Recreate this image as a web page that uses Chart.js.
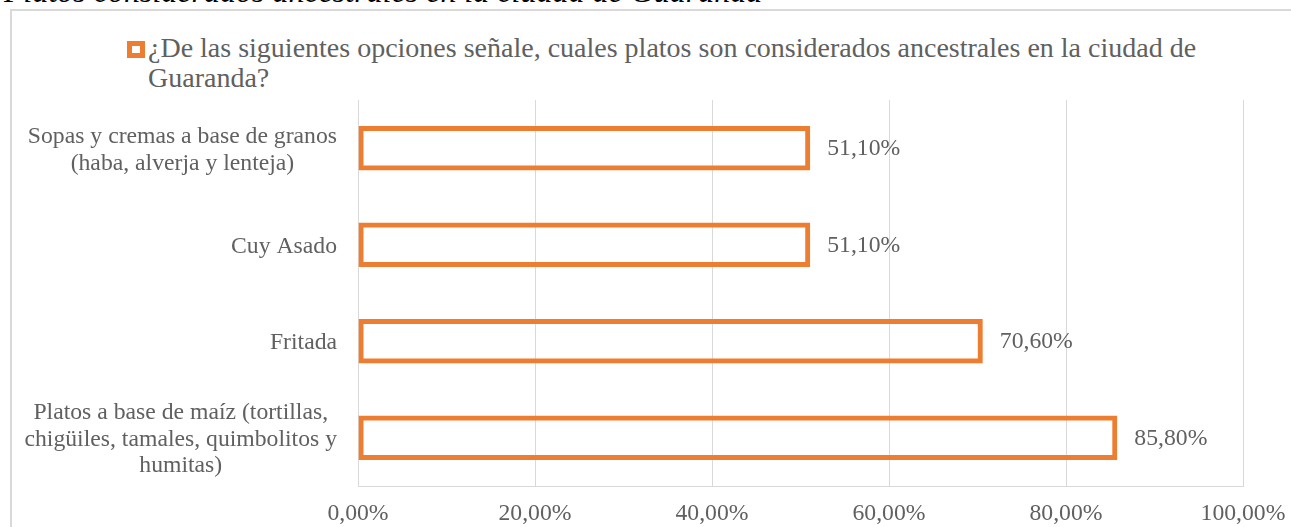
<!DOCTYPE html>
<html>
<head>
<meta charset="utf-8">
<script src="https://cdn.jsdelivr.net/npm/chart.js@4"></script>
<style>
  html, body { margin: 0; padding: 0; background: #fff; overflow: hidden; }
  #wrap { position: relative; width: 1291px; height: 527px; }
  #frame {
    position: absolute; left: 10px; top: 9px; width: 1400px; height: 600px;
    border: 2px solid #d9d9d9; box-sizing: border-box;
  }
  #title {
    position: absolute; left: 4px; top: -25px; white-space: nowrap;
    font: italic 32px/32px 'Liberation Serif', 'Times New Roman', serif; color: #000;
  }
  #legend {
    position: absolute; left: 127px; top: 33px;
    font: 28px/30px 'Liberation Serif', 'Times New Roman', serif; color: #606060;
  }
  #legend .key {
    position: absolute; left: 0; top: 8px; width: 18px; height: 17px;
    border: 5px solid #ed7d31; box-sizing: border-box; background: #fff;
  }
  #legend .txt { margin-left: 21px; white-space: nowrap; }
  canvas { position: absolute; left: 0; top: 0; }
</style>
</head>
<body>
<div id="wrap">
  <div id="frame"></div>
  <div id="title">Platos considerados ancestrales en la ciudad de Guaranda</div>
  <div id="legend"><span class="key"></span><div class="txt">¿De las siguientes opciones señale, cuales platos son considerados ancestrales en la ciudad de<br>Guaranda?</div></div>
  <canvas id="chart" width="1291" height="527"></canvas>
</div>
<script>
// categories, top to bottom
const categories = [
  ['Sopas y cremas a base de granos', '(haba, alverja y lenteja)'],
  ['Cuy Asado'],
  ['Fritada'],
  ['Platos a base de maíz (tortillas,', 'chigüiles, tamales, quimbolitos y', 'humitas)']
];
const values = [51.1, 51.1, 70.6, 85.8];
const seriesName = '¿De las siguientes opciones señale, cuales platos son considerados ancestrales en la ciudad de Guaranda?';

const textColor = '#606060';
const fontFamily = "'Liberation Serif', 'Times New Roman', serif";
const pct = v => v.toFixed(2).replace('.', ',') + '%';

Chart.defaults.font.family = fontFamily;
Chart.defaults.color = textColor;

// multi-line category names: block right-aligned to the axis, lines centred inside it
const categoryLabels = {
  id: 'categoryLabels',
  afterDraw(chart) {
    const ctx = chart.ctx;
    const y = chart.scales.y;
    const right = chart.chartArea.left - 21;
    const lineH = 26.5;
    ctx.save();
    ctx.font = '23.7px ' + fontFamily;
    ctx.fillStyle = textColor;
    ctx.textAlign = 'center';
    ctx.textBaseline = 'middle';
    categories.forEach((lines, i) => {
      const w = Math.max(...lines.map(l => ctx.measureText(l).width));
      const cx = right - w / 2;
      const cy = y.getPixelForValue(i) + 2;
      const start = cy - (lines.length - 1) * lineH / 2;
      lines.forEach((l, k) => ctx.fillText(l, cx, start + k * lineH));
    });
    ctx.restore();
  }
};

// value labels at the end of each bar
const valueLabels = {
  id: 'valueLabels',
  afterDatasetsDraw(chart) {
    const ctx = chart.ctx;
    const meta = chart.getDatasetMeta(0);
    ctx.save();
    ctx.font = '23.7px ' + fontFamily;
    ctx.fillStyle = textColor;
    ctx.textAlign = 'left';
    ctx.textBaseline = 'middle';
    meta.data.forEach((bar, i) => {
      ctx.fillText(pct(values[i]), bar.x + 17, bar.y + 1);
    });
    ctx.restore();
  }
};

new Chart(document.getElementById('chart'), {
  type: 'bar',
  data: {
    labels: categories,
    datasets: [{
      label: seriesName,
      data: values,
      backgroundColor: 'rgba(0,0,0,0)',
      borderColor: '#ed7d31',
      borderWidth: 5,
      borderSkipped: false,
      barPercentage: 0.46,
      categoryPercentage: 1
    }]
  },
  options: {
    indexAxis: 'y',
    responsive: false,
    animation: false,
    layout: { padding: { top: 100, right: 48, left: 0, bottom: 0 } },
    plugins: {
      legend: { display: false },
      tooltip: { enabled: false }
    },
    scales: {
      x: {
        min: 0,
        max: 100,
        ticks: {
          stepSize: 20,
          padding: 14,
          color: textColor,
          font: { size: 23.7 },
          callback: v => pct(v)
        },
        grid: { color: '#d9d9d9', lineWidth: 1, drawTicks: false },
        border: { display: true, color: '#d9d9d9', width: 1 },
        afterFit: s => { s.height = 41; s.paddingLeft = 0; s.paddingRight = 0; }
      },
      y: {
        ticks: { display: false },
        grid: { display: false },
        border: { display: false },
        afterFit: s => { s.width = 358; }
      }
    }
  },
  plugins: [categoryLabels, valueLabels]
});
</script>
</body>
</html>
